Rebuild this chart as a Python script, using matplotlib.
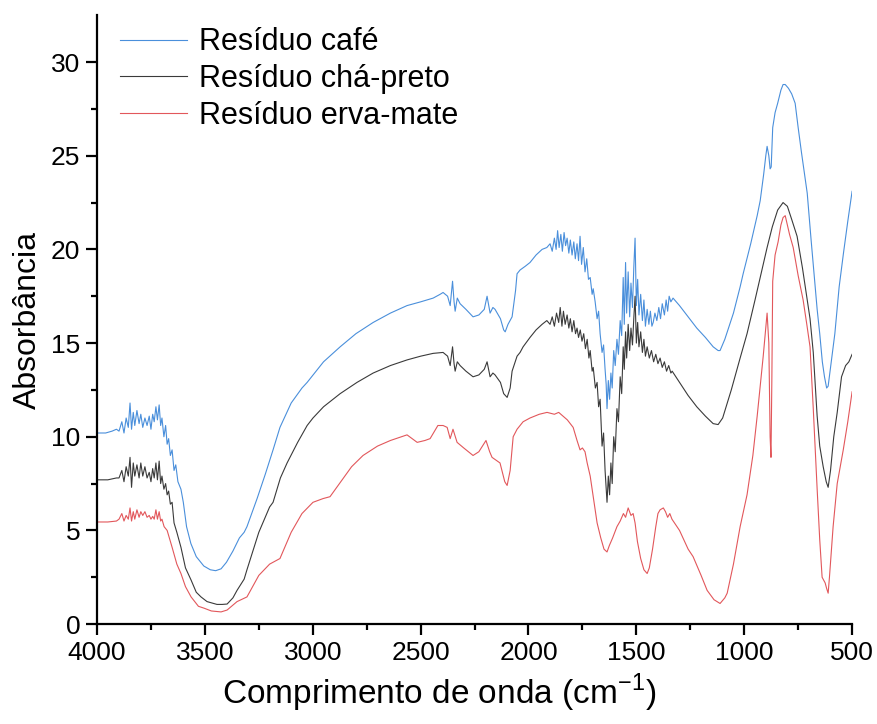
import numpy as np
import matplotlib
matplotlib.use("Agg")
import matplotlib.pyplot as plt

plt.rcParams['font.family'] = ['Liberation Sans', 'DejaVu Sans']

# espectros (numero de onda em cm-1, absorbancia)
wn_cafe = [4000, 3960, 3930, 3910, 3898, 3885, 3875, 3865, 3855, 3847, 3840, 3832, 3825,
           3815, 3805, 3797, 3788, 3778, 3768, 3758, 3750, 3742, 3735, 3727, 3720, 3712,
           3705, 3699, 3690, 3682, 3675, 3668, 3660, 3652, 3643, 3635, 3625, 3611, 3600,
           3585, 3565, 3540, 3505, 3475, 3450, 3425, 3400, 3370, 3340, 3318, 3305, 3258,
           3220, 3184, 3152, 3100, 3050, 3026, 2950, 2873, 2800, 2720, 2640, 2563, 2500,
           2442, 2410, 2396, 2375, 2363, 2352, 2345, 2340, 2330, 2317, 2290, 2257, 2230,
           2205, 2192, 2183, 2178, 2165, 2155, 2130, 2115, 2108, 2095, 2076, 2060, 2053,
           2039, 2015, 1993, 1965, 1937, 1915, 1900, 1890, 1880, 1872, 1865, 1858, 1850,
           1843, 1835, 1828, 1821, 1813, 1806, 1798, 1790, 1783, 1775, 1768, 1761, 1754,
           1746, 1738, 1730, 1722, 1714, 1705, 1700, 1691, 1682, 1675, 1668, 1659, 1652,
           1645, 1640, 1636, 1630, 1624, 1618, 1612, 1605, 1598, 1590, 1583, 1575, 1568,
           1561, 1556, 1550, 1545, 1538, 1531, 1525, 1518, 1512, 1506, 1500, 1494, 1488,
           1480, 1472, 1465, 1458, 1450, 1442, 1435, 1428, 1422, 1414, 1405, 1396, 1388,
           1380, 1370, 1362, 1355, 1348, 1340, 1330, 1300, 1260, 1220, 1180, 1144, 1121,
           1112, 1090, 1050, 1019, 1005, 970, 940, 926, 910, 900, 894, 886, 880, 875, 868,
           857, 845, 830, 820, 810, 795, 780, 764, 750, 735, 720, 708, 690, 675, 662, 650,
           638, 628, 618, 611, 600, 580, 560, 540, 520, 500]
abs_cafe = [10.2, 10.2, 10.3, 10.4, 10.3, 10.8, 10.2, 11.0, 10.5, 11.8, 10.4, 11.3, 10.6,
            11.4, 10.7, 11.2, 10.5, 11.0, 10.6, 11.1, 10.4, 11.2, 10.8, 11.6, 10.9, 11.7,
            10.6, 11.0, 10.0, 10.6, 9.6, 9.9, 9.0, 9.3, 8.2, 8.5, 7.6, 7.2, 6.5,
            5.2, 4.3, 3.6, 3.1, 2.9, 2.85, 2.95, 3.3, 3.9, 4.6, 4.9, 5.2, 6.7,
            8.0, 9.3, 10.5, 11.8, 12.6, 12.9, 14.0, 14.8, 15.5, 16.1, 16.6, 17.0, 17.2,
            17.4, 17.6, 17.7, 17.5, 17.0, 18.3, 17.2, 16.7, 17.4, 17.1, 16.8, 16.4, 16.5,
            16.8, 17.5, 16.9, 16.6, 16.9, 16.8, 16.3, 15.7, 15.6, 16.0, 16.4, 17.8, 18.7,
            18.9, 19.1, 19.3, 19.7, 20.0, 20.1, 20.3, 19.9, 20.6, 20.0, 21.0, 20.1, 20.8,
            19.9, 20.9, 20.2, 20.6, 19.8, 20.5, 19.7, 20.4, 19.5, 20.3, 19.4, 20.7, 19.2,
            20.1, 18.8, 19.5, 18.4, 18.5, 17.6, 17.9, 17.2, 16.3, 16.7, 15.5, 14.5, 14.9,
            13.6, 12.8, 11.5, 13.0, 12.0, 13.4, 12.6, 14.6, 13.8, 15.2, 14.4, 16.2, 15.4,
            18.5, 16.0, 19.3, 16.6, 18.8, 16.4, 18.2, 16.9, 19.0, 20.6, 17.0, 18.4, 16.5,
            17.6, 16.2, 17.3, 15.9, 16.8, 16.0, 16.7, 15.9, 16.1, 16.6, 16.2, 16.9, 16.3,
            17.1, 16.5, 17.3, 16.7, 17.5, 17.2, 17.4, 17.0, 16.4, 15.8, 15.3, 14.8, 14.6,
            14.6, 15.2, 16.6, 18.0, 18.7, 20.3, 21.8, 22.6, 24.0, 25.0, 25.5, 25.0, 24.3, 24.4, 26.5,
            27.3, 27.8, 28.5, 28.8, 28.8, 28.6, 28.3, 27.8, 26.5, 25.2, 24.0, 23.0, 20.5, 18.5, 16.8, 15.5,
            14.0, 13.2, 12.6, 12.7, 13.7, 15.5, 18.0, 19.8, 21.5, 23.1]

wn_cha = [4000, 3950, 3910, 3898, 3885, 3875, 3865, 3855, 3847, 3840, 3832, 3825, 3815,
          3805, 3797, 3788, 3778, 3768, 3758, 3750, 3742, 3735, 3727, 3720, 3712, 3705,
          3699, 3690, 3682, 3675, 3668, 3660, 3652, 3643, 3630, 3611, 3590, 3564, 3540,
          3518, 3490, 3444, 3420, 3397, 3370, 3351, 3318, 3305, 3250, 3200, 3184, 3150,
          3119, 3070, 3026, 2999, 2950, 2873, 2795, 2720, 2640, 2563, 2500, 2442, 2396,
          2375, 2363, 2352, 2345, 2340, 2330, 2317, 2290, 2257, 2230, 2205, 2192, 2183,
          2178, 2165, 2155, 2130, 2115, 2099, 2085, 2076, 2053, 2039, 2025, 1993, 1965,
          1937, 1915, 1900, 1890, 1880, 1870, 1860, 1853, 1845, 1838, 1830, 1821, 1813,
          1806, 1798, 1790, 1782, 1775, 1768, 1760, 1752, 1744, 1736, 1728, 1720, 1714,
          1705, 1700, 1690, 1682, 1675, 1668, 1659, 1652, 1645, 1640, 1636, 1630, 1624,
          1618, 1612, 1605, 1598, 1590, 1583, 1575, 1568, 1561, 1556, 1550, 1545, 1538,
          1531, 1525, 1518, 1512, 1506, 1500, 1494, 1488, 1480, 1472, 1465, 1458, 1450,
          1440, 1430, 1420, 1410, 1400, 1390, 1380, 1370, 1360, 1350, 1340, 1334, 1300,
          1260, 1220, 1180, 1144, 1121, 1100, 1060, 1019, 987, 950, 920, 894, 870, 845,
          820, 800, 780, 755, 730, 708, 695, 680, 662, 650, 634, 620, 611, 600, 585, 569,
          549, 530, 515, 500]
abs_cha = [7.7, 7.7, 7.8, 7.8, 8.2, 7.6, 8.4, 7.9, 8.9, 7.3, 8.6, 7.9, 8.5,
           7.8, 8.6, 7.9, 8.4, 7.8, 8.1, 7.6, 8.3, 7.8, 8.6, 7.7, 8.7, 7.5,
           7.9, 7.2, 7.5, 6.9, 7.1, 6.4, 6.5, 5.4, 4.9, 4.1, 3.0, 2.35, 1.7,
           1.45, 1.2, 1.05, 1.05, 1.07, 1.4, 1.8, 2.4, 2.9, 4.9, 6.25, 6.5, 7.8,
           8.6, 9.7, 10.6, 11.0, 11.6, 12.3, 12.9, 13.4, 13.8, 14.1, 14.3, 14.45, 14.5,
           14.3, 13.8, 14.8, 13.9, 13.5, 14.0, 13.8, 13.5, 13.2, 13.3, 13.6, 14.0, 13.5,
           13.2, 13.4, 13.3, 12.9, 12.3, 12.1, 12.6, 13.5, 14.3, 14.5, 14.8, 15.3, 15.7,
           16.0, 16.2, 16.0, 16.4, 15.9, 16.6, 16.1, 16.9, 15.9, 16.7, 16.0, 16.5, 15.8,
           16.3, 15.6, 16.2, 15.5, 15.8, 15.3, 15.7, 15.1, 15.5, 14.7, 15.2, 14.2, 14.6,
           13.5, 13.7, 12.6, 12.9, 11.6, 12.0, 9.5, 10.2, 8.2, 7.3, 6.5, 7.9, 6.9,
           8.6, 7.5, 10.0, 9.2, 11.5, 10.8, 13.2, 12.3, 14.8, 13.6, 15.6, 14.2, 16.0,
           14.6, 15.8, 14.9, 16.3, 17.5, 15.0, 16.1, 14.8, 15.6, 14.5, 15.2, 14.3, 14.8,
           14.2, 14.6, 14.0, 14.4, 13.9, 14.2, 13.7, 14.0, 13.5, 13.8, 13.4, 13.5, 12.9,
           12.2, 11.6, 11.1, 10.7, 10.65, 11.0, 12.5, 14.2, 15.5, 17.3, 18.8, 20.1, 21.2, 22.1,
           22.5, 22.3, 21.6, 20.7, 19.0, 17.3, 16.3, 14.5, 11.1, 9.5, 8.4, 7.6, 7.3, 8.2, 10.0, 11.3,
           13.2, 13.8, 14.0, 14.4]

wn_erva = [4000, 3950, 3910, 3898, 3885, 3875, 3865, 3855, 3847, 3840, 3832, 3825, 3815,
           3805, 3797, 3788, 3778, 3768, 3758, 3750, 3742, 3735, 3727, 3720, 3712, 3705,
           3699, 3689, 3675, 3652, 3630, 3611, 3590, 3564, 3530, 3504, 3470, 3425, 3397,
           3351, 3305, 3250, 3200, 3152, 3100, 3050, 2999, 2952, 2920, 2870, 2820, 2767,
           2700, 2640, 2563, 2516, 2480, 2456, 2420, 2396, 2377, 2363, 2350, 2331, 2300,
           2257, 2230, 2197, 2180, 2169, 2132, 2110, 2099, 2085, 2071, 2053, 2025, 1993,
           1950, 1914, 1880, 1860, 1840, 1820, 1793, 1775, 1761, 1750, 1738, 1728, 1714,
           1700, 1682, 1665, 1650, 1636, 1625, 1610, 1590, 1575, 1560, 1550, 1538, 1525,
           1515, 1506, 1495, 1480, 1465, 1450, 1440, 1425, 1410, 1400, 1390, 1375, 1365,
           1355, 1345, 1335, 1300, 1260, 1237, 1200, 1172, 1140, 1112, 1090, 1079, 1050,
           1019, 987, 960, 940, 925, 912, 900, 894, 886, 880, 876, 872, 868, 857, 843,
           830, 820, 810, 790, 773, 750, 727, 710, 695, 680, 662, 650, 639, 630, 625,
           618, 611, 605, 588, 569, 541, 520, 500]
abs_erva = [5.45, 5.45, 5.5, 5.6, 5.9, 5.5, 5.8, 5.6, 6.2, 5.5, 6.0, 5.6, 6.1,
            5.7, 6.0, 5.8, 6.0, 5.7, 5.8, 5.6, 5.75, 5.6, 6.1, 5.6, 6.0, 5.5,
            5.6, 5.2, 5.0, 4.1, 3.2, 2.7, 2.0, 1.45, 0.95, 0.85, 0.7, 0.65, 0.75,
            1.2, 1.45, 2.6, 3.2, 3.5, 4.9, 5.9, 6.5, 6.7, 6.8, 7.6, 8.4, 9.0,
            9.5, 9.8, 10.1, 9.7, 9.8, 9.9, 10.6, 10.6, 10.5, 9.9, 10.4, 9.7, 9.4,
            9.0, 9.2, 9.8, 9.2, 8.9, 8.6, 7.6, 7.4, 8.2, 10.0, 10.4, 10.8, 11.0,
            11.2, 11.3, 11.2, 11.3, 11.1, 10.9, 10.5, 9.8, 9.3, 9.4, 9.2, 8.6, 7.9,
            6.8, 5.4, 4.6, 4.0, 3.85, 4.2, 4.6, 5.2, 5.5, 5.9, 5.7, 6.2, 5.8,
            5.9, 5.4, 4.4, 3.5, 2.9, 2.7, 3.0, 4.0, 5.2, 5.9, 6.1, 6.2, 6.0,
            5.7, 5.9, 5.6, 5.0, 4.0, 3.6, 2.6, 1.8, 1.3, 1.1, 1.4, 1.65, 3.2,
            5.2, 6.9, 9.0, 11.1, 12.8, 14.3, 15.8, 16.6, 15.0, 10.0, 8.9, 13.0, 18.3, 19.7, 20.4,
            21.3, 21.7, 21.8, 20.8, 20.1, 18.6, 17.3, 16.0, 14.8, 11.5, 7.2, 4.5, 2.5, 2.3, 2.2,
            1.9, 1.65, 2.5, 5.2, 7.5, 9.3, 10.8, 12.4]

labels = ['Resíduo café', 'Resíduo chá-preto', 'Resíduo erva-mate']
cores = ['#4a8fdb', '#3a3a3a', '#e2575b']

fig = plt.figure(figsize=(8.78, 7.24), dpi=100)
ax = fig.add_axes([0.1105, 0.138, 0.860, 0.841])

ax.plot(wn_cafe, abs_cafe, color=cores[0], lw=0.8, label=labels[0])
ax.plot(wn_cha, abs_cha, color=cores[1], lw=0.8, label=labels[1])
ax.plot(wn_erva, abs_erva, color=cores[2], lw=0.8, label=labels[2])

ax.set_xlim(4000, 500)
ax.set_ylim(0, 32.5)
ax.set_xticks(np.arange(4000, 499, -500))
ax.set_xticks(np.arange(3750, 500, -500), minor=True)
ax.set_yticks(np.arange(0, 31, 5))
ax.set_yticks(np.arange(2.5, 32.5, 5), minor=True)

for s in ['top', 'right']:
    ax.spines[s].set_visible(False)
for s in ['left', 'bottom']:
    ax.spines[s].set_linewidth(1.6)
ax.tick_params(which='major', direction='out', length=8, width=1.6, labelsize=19, pad=4)
ax.tick_params(which='minor', direction='out', length=4, width=1.6)

ax.set_xlabel('Comprimento de onda (cm$^{\\mathregular{-1}}$)', fontsize=24)
ax.xaxis.set_label_coords(0.453, -0.078)
ax.set_ylabel('Absorbância', fontsize=23, labelpad=6)

leg = ax.legend(loc='upper left', bbox_to_anchor=(0.03, 0.98), frameon=False,
                borderpad=0, borderaxespad=0,
                fontsize=22, handlelength=2.2, labelspacing=0.22, handletextpad=0.4)

fig.savefig('out.png', dpi=100)
